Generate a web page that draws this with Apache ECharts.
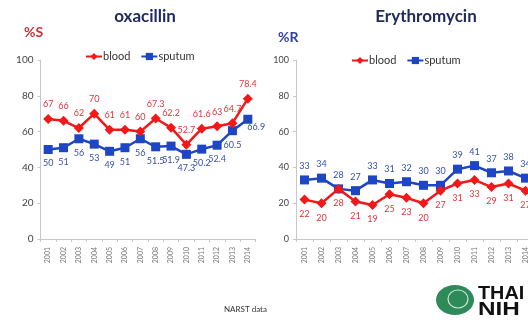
<!DOCTYPE html>
<html>
<head>
<meta charset="utf-8">
<script src="https://cdn.jsdelivr.net/npm/echarts@6/dist/echarts.min.js"></script>
<style>
  html, body { margin: 0; padding: 0; background: #fff; }
  #chart { width: 528px; height: 322px; }
</style>
</head>
<body>
<div id="chart"></div>
<script>
// Years on both x axes
const years = ['2001','2002','2003','2004','2005','2006','2007','2008','2009','2010','2011','2012','2013','2014'];

// Oxacillin, % susceptible
const oxaBlood  = [67, 66, 62, 70, 61, 61, 60, 67.3, 62.2, 52.7, 61.6, 63, 64.7, 78.4];
const oxaSputum = [50, 51, 56, 53, 49, 51, 56, 51.5, 51.9, 47.3, 50.2, 52.4, 60.5, 66.9];

// Erythromycin, % resistant
const eryBlood  = [22, 20, 28, 21, 19, 25, 23, 20, 27, 31, 33, 29, 31, 27];
const erySputum = [33, 34, 28, 27, 33, 31, 32, 30, 30, 39, 41, 37, 38, 34];

const yTicks = [0, 20, 40, 60, 80, 100];

const RED = '#f01818';
const BLUE = '#1d45c4';
const RED_LABEL = '#e2343c';
const BLUE_LABEL = '#3550ae';
const FONT = 'Lato, "Open Sans", sans-serif';

const chart = echarts.init(document.getElementById('chart'));

function xAxis(gridIndex) {
  return {
    type: 'category', gridIndex, data: years, boundaryGap: true,
    axisLine: { lineStyle: { color: '#c8c8c8', width: 1 } },
    axisTick: { show: true, length: 3, lineStyle: { color: '#c8c8c8' } },
    axisLabel: { rotate: 90, fontSize: 7, color: '#777', fontFamily: FONT, margin: 8 }
  };
}
function yAxis(gridIndex, size) {
  return {
    type: 'value', gridIndex, min: 0, max: 100, interval: 20,
    axisLine: { show: true, lineStyle: { color: '#c8c8c8', width: 1 } },
    axisTick: { show: true, length: 3, lineStyle: { color: '#c8c8c8' } },
    splitLine: { show: false },
    axisLabel: { fontSize: size, color: '#444', fontFamily: FONT, margin: 7,
      formatter: v => yTicks.includes(v) ? String(v) : '' }
  };
}
function series(name, data, idx, color, labelColor, symbol, symbolSize, pos, special) {
  return {
    name, type: 'line', xAxisIndex: idx, yAxisIndex: idx,
    data: data.map((v, i) => special && special[i] ? { value: v, label: special[i] } : v),
    symbol, symbolSize,
    lineStyle: { color, width: 2.5 },
    itemStyle: { color },
    label: { show: true, position: pos, distance: 5, fontSize: 9, color: labelColor,
      fontFamily: FONT },
    z: name === 'blood' ? 3 : 2,
    animation: false
  };
}

chart.setOption({
  backgroundColor: '#ffffff',
  animation: false,
  title: [
    { text: 'oxacillin', left: 140, top: 3, textAlign: 'center',
      textStyle: { fontSize: 17, fontWeight: 'bold', color: '#1e2a5c', fontFamily: FONT } },
    { text: 'Erythromycin', left: 421, top: 3, textAlign: 'center',
      textStyle: { fontSize: 17, fontWeight: 'bold', color: '#1e2a5c', fontFamily: FONT } }
  ],
  legend: [
    { data: ['blood', 'sputum'], left: 80, top: 46, itemWidth: 16, itemHeight: 9, itemGap: 10,
      textStyle: { fontSize: 11, color: '#333', fontFamily: FONT, padding: [0, 0, 0, -4] } },
    { data: ['blood', 'sputum'], left: 346, top: 50, itemWidth: 16, itemHeight: 9, itemGap: 10,
      textStyle: { fontSize: 11, color: '#333', fontFamily: FONT, padding: [0, 0, 0, -4] } }
  ],
  grid: [
    { left: 40.5, top: 60, width: 215, height: 179, outerBoundsMode: 'none' },
    { left: 296, top: 60, width: 238, height: 179, outerBoundsMode: 'none' }
  ],
  xAxis: [xAxis(0), xAxis(1)],
  yAxis: [yAxis(0, 10), yAxis(1, 9)],
  series: [
    series('blood', oxaBlood, 0, RED, RED_LABEL, 'diamond', 10, 'top'),
    series('sputum', oxaSputum, 0, BLUE, BLUE_LABEL, 'rect', 9, 'bottom',
      { 13: { position: [4, 8] } }),
    series('blood', eryBlood, 1, RED, RED_LABEL, 'diamond', 10, 'bottom'),
    series('sputum', erySputum, 1, BLUE, BLUE_LABEL, 'rect', 9, 'top')
  ],
  graphic: [
    { type: 'text', left: 24, top: 25,
      style: { text: '%S', fontSize: 14, fontWeight: 'bold', fill: '#c8323a', fontFamily: FONT } },
    { type: 'text', left: 278, top: 30,
      style: { text: '%R', fontSize: 14, fontWeight: 'bold', fill: '#3040a0', fontFamily: FONT } },
    { type: 'text', left: 224, top: 305,
      style: { text: 'NARST data', fontSize: 8, fill: '#333', fontFamily: FONT } },
    // logo mark
    { type: 'ellipse', shape: { cx: 455, cy: 300, rx: 19, ry: 15 },
      style: { fill: '#2f8a5a' } },
    { type: 'ellipse', shape: { cx: 458, cy: 299, rx: 10, ry: 9 },
      style: { fill: 'none', stroke: '#cfe8d8', lineWidth: 1.2 } },
    { type: 'text', x: 478, y: 285, scaleX: 1.1,
      style: { text: 'THAI', fontSize: 18, fontWeight: 'bold', fill: '#111', fontFamily: 'Liberation Sans, sans-serif' } },
    { type: 'text', x: 478, y: 301, scaleX: 1.35,
      style: { text: 'NIH', fontSize: 18, fontWeight: 'bold', fill: '#111', fontFamily: 'Liberation Sans, sans-serif' } }
  ]
});
</script>
</body>
</html>
